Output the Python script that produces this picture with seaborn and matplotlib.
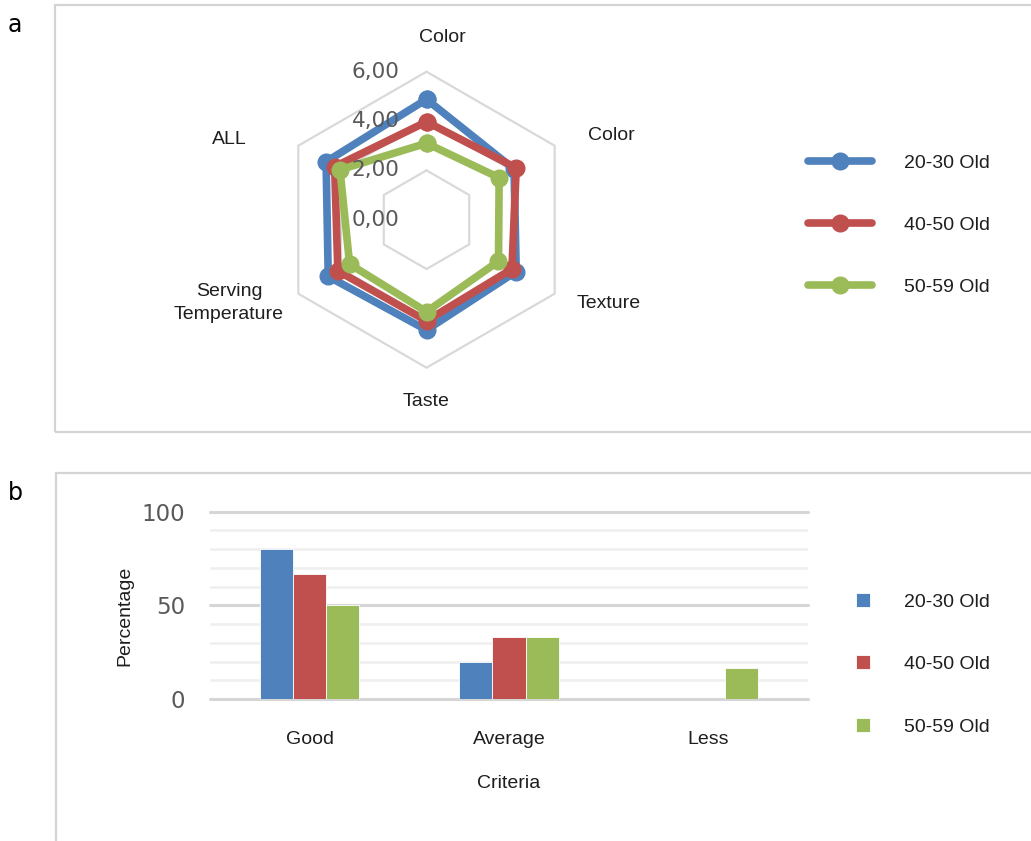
import numpy as np
import pandas as pd
import matplotlib
matplotlib.use("Agg")
import matplotlib.pyplot as plt
from matplotlib import font_manager
from matplotlib.lines import Line2D
from matplotlib.patches import Rectangle
import seaborn as sns

# ---------------- data ----------------
radar_axes = ["Color", "Color", "Texture", "Taste", "Serving\nTemperature", "ALL"]
groups = ["20-30 Old", "40-50 Old", "50-59 Old"]
radar_2030 = [4.88, 4.10, 4.20, 4.47, 4.60, 4.70]
radar_4050 = [3.97, 4.20, 4.00, 4.10, 4.15, 4.30]
radar_5059 = [3.10, 3.40, 3.37, 3.73, 3.60, 4.05]
radar_ticks = [0, 2, 4, 6]
radar_ticklabels = ["0,00", "2,00", "4,00", "6,00"]

criteria = ["Good", "Average", "Less"]
pct_2030 = [80.0, 20.0, 0.0]
pct_4050 = [66.7, 33.3, 0.0]
pct_5059 = [50.0, 33.3, 16.7]
bar_ticks = [0, 50, 100]

colors = ["#4F81BD", "#C0504D", "#9BBB59"]

# ---------------- style ----------------
sns.set_theme(style="white")
names = {f.name for f in font_manager.fontManager.ttflist}
NARROW = "Liberation Sans Narrow" in names
LFAM = ["Liberation Sans Narrow", "DejaVu Sans"] if NARROW else ["Liberation Sans", "DejaVu Sans"]
LSIZE = 16 if NARROW else 14
plt.rcParams["font.family"] = ["DejaVu Sans"]
TXT = "#1e1e1e"
TICK = "#595959"

W, H = 1031, 841
fig = plt.figure(figsize=(W / 100, H / 100), dpi=100)


def fx(px):
    return px / W


def fy(py):
    return (H - py) / H


# panel frames
fig.patches.append(Rectangle((fx(55), fy(432)), 1.0, (432 - 5) / H, transform=fig.transFigure,
                             fill=False, edgecolor="#d4d4d4", lw=1.6, zorder=0))
fig.patches.append(Rectangle((fx(55.5), -0.1), 1.0, (H - 473) / H + 0.1, transform=fig.transFigure,
                             fill=False, edgecolor="#d4d4d4", lw=1.6, zorder=0))
fig.text(fx(15), fy(25), "a", fontsize=17, ha="center", va="center", color="black")
fig.text(fx(15), fy(493), "b", fontsize=17, ha="center", va="center", color="black")

# ---------------- radar (a) ----------------
cx, cy, R = 426.5, 219.7, 148
ax = fig.add_axes([fx(cx - R), fy(cy + R), 2 * R / W, 2 * R / H], projection="polar")
ax.set_theta_zero_location("N")
ax.set_theta_direction(-1)
n = len(radar_axes)
theta = np.linspace(0, 2 * np.pi, n, endpoint=False)
theta_c = np.append(theta, theta[0])
ax.set_ylim(0, 6)
ax.grid(False)
ax.spines["polar"].set_visible(False)
ax.set_xticks([])
ax.set_yticks([])
ax.set_facecolor("none")

for r in radar_ticks[1:]:
    ax.plot(theta_c, [r] * (n + 1), color="#d9d9d9", lw=1.6, zorder=1, clip_on=False)

for vals, col in zip([radar_2030, radar_4050, radar_5059], colors):
    v = np.append(vals, vals[0])
    ax.plot(theta_c, v, color=col, lw=5.5, marker="o", markersize=12,
            solid_joinstyle="round", zorder=3, clip_on=False)

for r, lab in zip(radar_ticks, radar_ticklabels):
    ax.annotate(lab, xy=(0, r), xytext=(-27, 0), textcoords="offset pixels",
                ha="right", va="center", fontsize=15.5, color=TICK, zorder=5,
                annotation_clip=False)

label_pos = [(442, 37), (611, 135), (609, 303), (426, 401), (229, 303), (229, 140)]
for lab, (px, py) in zip(radar_axes, label_pos):
    fig.text(fx(px), fy(py), lab, ha="center", va="center", fontsize=LSIZE,
             family=LFAM, color=TXT, linespacing=1.5)

handles = [Line2D([], [], color=c, lw=5.5, marker="o", markersize=12, solid_capstyle="round")
           for c in colors]
fig.legend(handles, groups, loc="upper left", bbox_to_anchor=(fx(808), fy(154)),
           frameon=False, prop={"family": LFAM, "size": LSIZE}, labelcolor=TXT,
           handlelength=3.3, handletextpad=1.65, labelspacing=2.3,
           borderpad=0, borderaxespad=0)

# ---------------- bars (b) ----------------
df = pd.DataFrame({
    "Criteria": criteria * 3,
    "Percentage": pct_2030 + pct_4050 + pct_5059,
    "Group": [g for g in groups for _ in criteria],
})
bx = fig.add_axes([fx(210), fy(699), 598 / W, (699 - 511.7) / H])
sns.barplot(data=df, x="Criteria", y="Percentage", hue="Group", palette=colors,
            width=0.5, saturation=1, edgecolor="white", linewidth=0.6, ax=bx, zorder=3)
bx.set_ylim(0, 100)
bx.set_yticks(bar_ticks)
bx.set_yticks(np.arange(0, 101, 10), minor=True)
bx.grid(False)
bx.yaxis.grid(True, which="minor", color="#efefef", lw=1.8, zorder=0)
bx.yaxis.grid(True, which="major", color="#d6d6d6", lw=2.2, zorder=1)
for gl in bx.yaxis.get_gridlines():
    gl.set_clip_on(False)
for s in bx.spines.values():
    s.set_visible(False)
bx.tick_params(axis="y", which="both", length=0, pad=18, labelsize=16.5, labelcolor=TICK)
bx.tick_params(axis="x", length=0, pad=23)
for t in bx.get_xticklabels():
    t.set_family(LFAM)
    t.set_fontsize(LSIZE)
    t.set_color(TXT)
bx.set_xlabel("Criteria", family=LFAM, fontsize=LSIZE, color=TXT)
bx.xaxis.set_label_coords(0.5, -0.405)
bx.set_ylabel("Percentage", family=LFAM, fontsize=LSIZE, color=TXT)
bx.yaxis.set_label_coords(-0.128, 0.443)

h, l = bx.get_legend_handles_labels()
bx.legend(h, l, loc="upper left", bbox_to_anchor=(fx(856), fy(593)),
          bbox_transform=fig.transFigure, frameon=False,
          prop={"family": LFAM, "size": LSIZE}, labelcolor=TXT,
          handlelength=0.72, handleheight=0.72, handletextpad=1.75, labelspacing=2.3,
          borderpad=0, borderaxespad=0)

fig.savefig("out.png", dpi=100)
